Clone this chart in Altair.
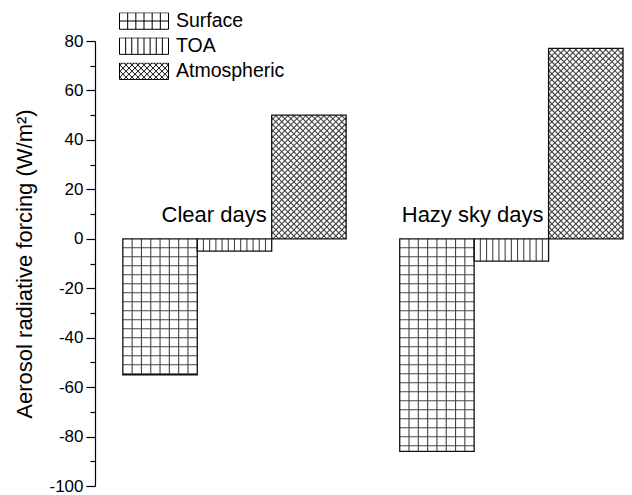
import altair as alt
import pandas as pd

# ---------------- data ----------------
groups = ["Clear days", "Hazy sky days"]
components = ["Surface", "TOA", "Atmospheric"]
surface = [-55, -86]
toa = [-5, -9]
atmospheric = [50, 77]
y_ticks = [-100, -80, -60, -40, -20, 0, 20, 40, 60, 80]
y_minor = [-90, -70, -50, -30, -10, 10, 30, 50, 70]

# ---------------- layout constants ----------------
FONT = "Liberation Sans"
W, H = 528, 445
Y_MIN, Y_MAX = -100, 80
GAP = 0.72          # gap between groups, in bar widths
LEFT = 0.374        # empty space left of first bar, in bar widths
X_MIN = -LEFT
X_MAX = 2 * 3 + GAP
kx = W / (X_MAX - X_MIN)   # px per x unit
ky = H / (Y_MAX - Y_MIN)   # px per y unit

series = {"Surface": surface, "TOA": toa, "Atmospheric": atmospheric}
rows = []
for gi, g in enumerate(groups):
    for ci, c in enumerate(components):
        x0 = gi * (3 + GAP) + ci
        rows.append(dict(group=g, component=c, x0=x0, x1=x0 + 1,
                         value=series[c][gi], zero=0))
bars = pd.DataFrame(rows)

# ---------------- hatch segments (decoration) ----------------
segs = []
for r in rows:
    x0, x1, v = r["x0"], r["x1"], r["value"]
    lo, hi = min(0, v), max(0, v)
    c = r["component"]
    if c in ("Surface", "TOA"):
        n = 8 if c == "Surface" else 12
        for k in range(1, n):
            xx = x0 + k / n
            segs.append(dict(x=xx, x2=xx, y=lo, y2=hi))
        if c == "Surface":
            step = 9.0 / ky
            k = 1
            while k * step < (hi - lo) - 1e-6:
                yy = -k * step if v < 0 else k * step
                segs.append(dict(x=x0, x2=x1, y=yy, y2=yy))
                k += 1
    else:
        X0, X1, Y0, Y1 = x0 * kx, x1 * kx, lo * ky, hi * ky
        p = 6.0
        for kk in range(int((X0 - Y1) // p) - 2, int((X1 + Y1) // p) + 3):
            b = kk * p
            # X - Y = b
            a1, a2 = max(X0, Y0 + b), min(X1, Y1 + b)
            if a2 - a1 > 0.3:
                segs.append(dict(x=a1 / kx, x2=a2 / kx, y=(a1 - b) / ky, y2=(a2 - b) / ky))
            # X + Y = b
            a1, a2 = max(X0, b - Y1), min(X1, b - Y0)
            if a2 - a1 > 0.3:
                segs.append(dict(x=a1 / kx, x2=a2 / kx, y=(b - a1) / ky, y2=(b - a2) / ky))
hatch_df = pd.DataFrame(segs)

# ---------------- legend symbol paths ----------------
S = 24.5                 # half-width of legend box in px
h = 8.25 / S
def f(v):
    return f"{v:.3f}"
def box():
    return f"M-1,{f(-h)}L1,{f(-h)}L1,{f(h)}L-1,{f(h)}Z"
def vlines(n):
    out = ""
    for k in range(1, n):
        xx = -1 + 2 * k / n
        out += f"M{f(xx)},{f(-h)}L{f(xx)},{f(h)}"
    return out
def diag():
    out = ""
    p = 6.0 / S
    for kk in range(-12, 13):
        b = kk * p
        a1, a2 = max(-1, -h + b), min(1, h + b)
        if a2 - a1 > 0.01:
            out += f"M{f(a1)},{f(a1 - b)}L{f(a2)},{f(a2 - b)}"
        a1, a2 = max(-1, b - h), min(1, b + h)
        if a2 - a1 > 0.01:
            out += f"M{f(a1)},{f(b - a1)}L{f(a2)},{f(b - a2)}"
    return out
paths = [box() + vlines(6) + "M-1,0L1,0", box() + vlines(8), box() + diag()]

legend_df = pd.DataFrame({"component": components, "x": [0, 0, 0], "y": [-500, -500, -500]})

labels_df = bars[bars.component == "TOA"][["group", "x1", "zero"]]

# ---------------- chart ----------------
xs = alt.Scale(domain=[X_MIN, X_MAX], nice=False, zero=False)
ys = alt.Scale(domain=[Y_MIN, Y_MAX], nice=False, zero=False)

major_axis = alt.Axis(values=y_ticks, orient="left", title="Aerosol radiative forcing (W/m²)",
                      labelExpr="datum.value + ''",
                      tickSize=9, tickWidth=1.2, tickColor="black", domainColor="black",
                      domainWidth=1.2, labelFontSize=17, labelFont=FONT, labelColor="black",
                      labelPadding=3, titleFont=FONT, titleFontSize=22, titleFontWeight="normal",
                      titleColor="black", titlePadding=12, grid=False)
minor_axis = alt.Axis(values=y_minor, orient="left", tickSize=5, tickWidth=1.2,
                      tickColor="black", labels=False, domain=False, title=None, grid=False)

fill_layer = alt.Chart(bars).mark_rect(fill="white", strokeWidth=0).encode(
    x=alt.X("x0:Q", scale=xs, axis=None), x2="x1",
    y=alt.Y("value:Q", scale=ys, axis=major_axis), y2="zero")

hatch_layer = alt.Chart(hatch_df).mark_rule(color="#444444", strokeWidth=1.1).encode(
    x=alt.X("x:Q", scale=xs, axis=None), x2="x2",
    y=alt.Y("y:Q", scale=ys, axis=None), y2="y2")

outline_layer = alt.Chart(bars).mark_rect(fillOpacity=0, stroke="#111111", strokeWidth=1.3).encode(
    x=alt.X("x0:Q", scale=xs, axis=None), x2="x1",
    y=alt.Y("value:Q", scale=ys, axis=minor_axis), y2="zero")

text_layer = alt.Chart(labels_df).mark_text(
    align="right", baseline="alphabetic", dx=-5, dy=-16.5, fontSize=22, font=FONT, color="black"
).encode(x=alt.X("x1:Q", scale=xs, axis=None), y=alt.Y("zero:Q", scale=ys, axis=None), text="group:N")

legend_layer = alt.Chart(legend_df).mark_point(
    filled=False, clip=True, color="black", opacity=1, strokeWidth=1
).encode(
    x=alt.X("x:Q", scale=xs, axis=None),
    y=alt.Y("y:Q", scale=ys, axis=None),
    shape=alt.Shape("component:N", scale=alt.Scale(domain=components, range=paths),
                    legend=alt.Legend(orient="none", legendX=24, legendY=-28.5, title=None,
                                      symbolSize=2401, clipHeight=17, rowPadding=5.1,
                                      labelFontSize=19.5, labelFont=FONT, labelColor="black",
                                      labelOffset=7, padding=0, symbolStrokeWidth=1,
                                      symbolStrokeColor="black", symbolFillColor="white")))

chart = alt.layer(fill_layer, hatch_layer, outline_layer, text_layer, legend_layer).resolve_axis(
    y="independent"
).properties(
    width=W, height=H,
    padding={"left": 5, "top": 4, "right": 0, "bottom": 0},
    background="white",
).configure_view(stroke=None)

chart.save("out.html", embed_options={"renderer": "svg", "actions": False})
